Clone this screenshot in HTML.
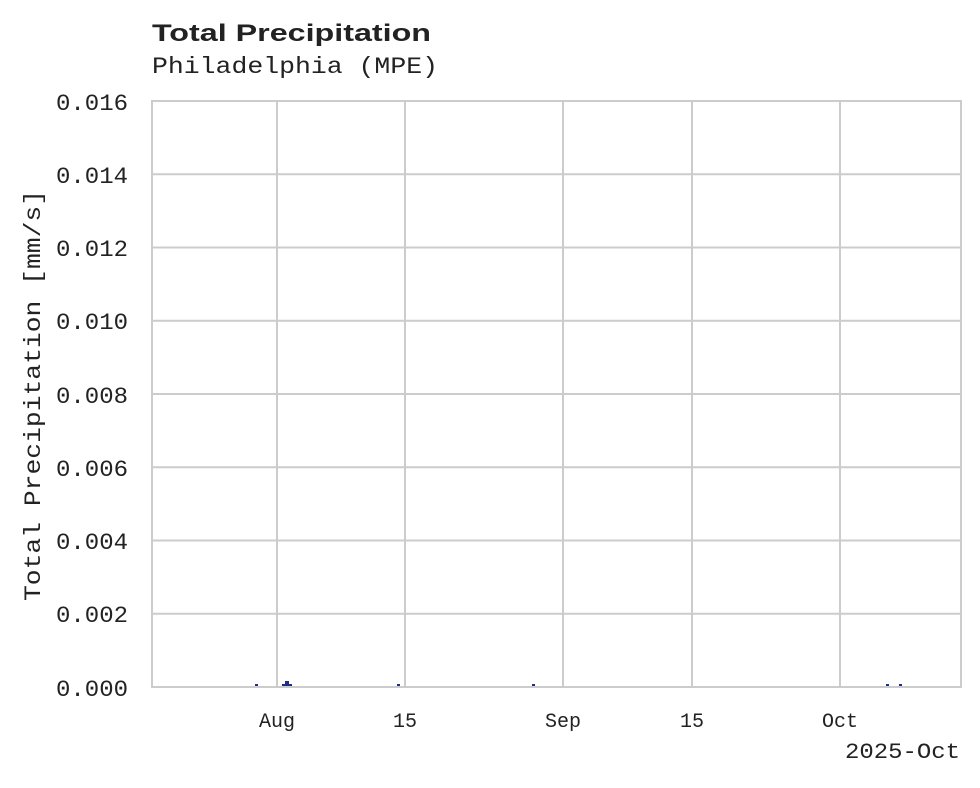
<!DOCTYPE html>
<html><head><style>body{margin:0;background:#fff}</style></head><body>
<svg width="980" height="783" xmlns="http://www.w3.org/2000/svg" font-family="Liberation Mono, monospace">
<rect width="980" height="783" fill="#fff"/>
<text x="152" y="41" font-family="Liberation Sans, sans-serif" font-weight="bold" font-size="24" fill="#222" textLength="279" lengthAdjust="spacingAndGlyphs">Total Precipitation</text>
<text x="152" y="73" font-size="23" fill="#222" textLength="286" lengthAdjust="spacingAndGlyphs">Philadelphia (MPE)</text>
<g stroke="#cccccc" stroke-width="2">
<line x1="152" y1="174.25" x2="961" y2="174.25"/><line x1="152" y1="247.5" x2="961" y2="247.5"/>
<line x1="152" y1="320.75" x2="961" y2="320.75"/><line x1="152" y1="394" x2="961" y2="394"/>
<line x1="152" y1="467.25" x2="961" y2="467.25"/><line x1="152" y1="540.5" x2="961" y2="540.5"/>
<line x1="152" y1="613.75" x2="961" y2="613.75"/>
<line x1="277" y1="101" x2="277" y2="687"/><line x1="405" y1="101" x2="405" y2="687"/>
<line x1="563" y1="101" x2="563" y2="687"/><line x1="692" y1="101" x2="692" y2="687"/>
<line x1="840" y1="101" x2="840" y2="687"/>
<rect x="152" y="101" width="809" height="586" fill="none"/>
</g>
<g fill="#1f2d86">
<rect x="255" y="684" width="3" height="2"/><rect x="285" y="681" width="4" height="5"/><rect x="282" y="684" width="10" height="2"/>
<rect x="397" y="684" width="3" height="2"/><rect x="532" y="684" width="3" height="2"/>
<rect x="886" y="684" width="3" height="2"/><rect x="899" y="684" width="3" height="2"/>
</g>
<g font-size="23" fill="#222">
<text x="56" y="110" textLength="72" lengthAdjust="spacingAndGlyphs">0.016</text>
<text x="56" y="183" textLength="72" lengthAdjust="spacingAndGlyphs">0.014</text>
<text x="56" y="256" textLength="72" lengthAdjust="spacingAndGlyphs">0.012</text>
<text x="56" y="329" textLength="72" lengthAdjust="spacingAndGlyphs">0.010</text>
<text x="56" y="403" textLength="72" lengthAdjust="spacingAndGlyphs">0.008</text>
<text x="56" y="476" textLength="72" lengthAdjust="spacingAndGlyphs">0.006</text>
<text x="56" y="549" textLength="72" lengthAdjust="spacingAndGlyphs">0.004</text>
<text x="56" y="622" textLength="72" lengthAdjust="spacingAndGlyphs">0.002</text>
<text x="56" y="696" textLength="72" lengthAdjust="spacingAndGlyphs">0.000</text>
</g>
<g font-size="20" fill="#222" text-anchor="middle">
<text x="277" y="727">Aug</text><text x="405" y="727">15</text><text x="563" y="727">Sep</text>
<text x="692" y="727">15</text><text x="840" y="727">Oct</text>
</g>
<text x="845" y="758" font-size="22" fill="#222" textLength="115" lengthAdjust="spacingAndGlyphs">2025-Oct</text>
<text transform="translate(40,601) rotate(-90)" font-size="23" fill="#222" textLength="411" lengthAdjust="spacingAndGlyphs">Total Precipitation [mm/s]</text>
</svg>
</body></html>
